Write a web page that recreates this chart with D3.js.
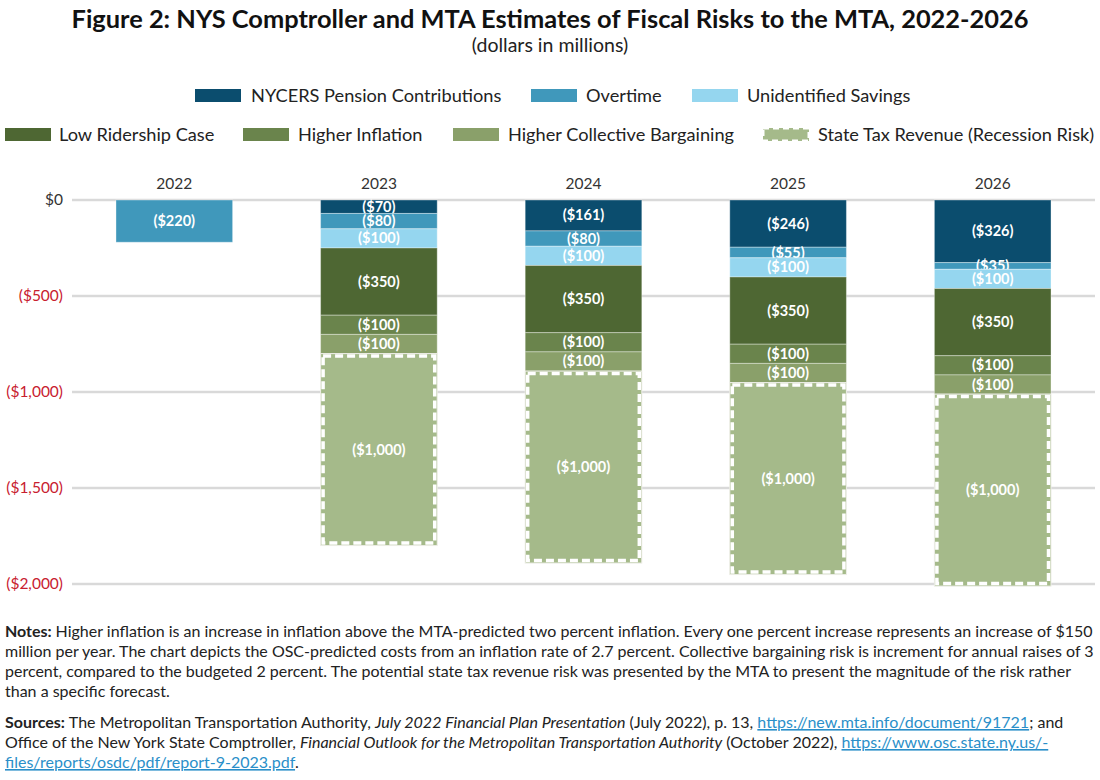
<!DOCTYPE html>
<html>
<head>
<meta charset="utf-8">
<script src="https://cdn.jsdelivr.net/npm/d3@7"></script>
<style>
  body { margin: 0; background: #fff; }
  text { font-family: Lato, "Open Sans", sans-serif; }
  .link { fill: #2a8fc9; }
</style>
</head>
<body>
<script>
var years = ["2022", "2023", "2024", "2025", "2026"];
var seriesNames = ["NYCERS Pension Contributions", "Overtime", "Unidentified Savings",
  "Low Ridership Case", "Higher Inflation", "Higher Collective Bargaining",
  "State Tax Revenue (Recession Risk)"];
// values in millions, negative = risk
var pension      = [0, -70, -161, -246, -326];
var overtime     = [-220, -80, -80, -55, -35];
var unidentified = [0, -100, -100, -100, -100];
var ridership    = [0, -350, -350, -350, -350];
var inflation    = [0, -100, -100, -100, -100];
var bargaining   = [0, -100, -100, -100, -100];
var stateTax     = [0, -1000, -1000, -1000, -1000];
var yTicks = [0, -500, -1000, -1500, -2000];

var colors = ["#0b4d6e", "#4098bb", "#95d6ef", "#4e6733", "#6a844c", "#8aa06a", "#a5ba8a"];
var seriesVals = [pension, overtime, unidentified, ridership, inflation, bargaining, stateTax];

var rows = years.map(function(y, i) {
  var r = { year: y };
  seriesNames.forEach(function(k, j) { r[k] = seriesVals[j][i]; });
  return r;
});

var W = 1100, H = 780;
var svg = d3.select("body").append("svg").attr("width", W).attr("height", H);

// title
svg.append("text").attr("x", 550).attr("y", 28).attr("text-anchor", "middle")
  .style("font-size", "25.4px").style("font-weight", 700).attr("fill", "#111")
  .text("Figure 2: NYS Comptroller and MTA Estimates of Fiscal Risks to the MTA, 2022-2026");
svg.append("text").attr("x", 550).attr("y", 52).attr("text-anchor", "middle")
  .style("font-size", "19.5px").attr("fill", "#222").text("(dollars in millions)");

// legend
var legendPos = [
  { x: 195, y: 89, tx: 251 }, { x: 531, y: 89, tx: 586 }, { x: 692, y: 89, tx: 747 },
  { x: 5, y: 128, tx: 59 }, { x: 243, y: 128, tx: 298 }, { x: 453, y: 128, tx: 508 },
  { x: 763, y: 128, tx: 818 }
];
var leg = svg.append("g").selectAll("g").data(seriesNames).enter().append("g");
leg.append("rect")
  .attr("x", function(d, i) { return legendPos[i].x; })
  .attr("y", function(d, i) { return legendPos[i].y; })
  .attr("width", 46).attr("height", 13)
  .attr("fill", function(d, i) { return colors[i]; })
  .attr("stroke", function(d, i) { return i === 6 ? "#fff" : "none"; })
  .attr("stroke-width", 3).attr("stroke-dasharray", "6,4");
leg.append("text")
  .attr("x", function(d, i) { return legendPos[i].tx; })
  .attr("y", function(d, i) { return legendPos[i].y + 12.5; })
  .style("font-size", "18.2px").attr("fill", "#222")
  .text(function(d) { return d; });

// scales
var x = d3.scaleBand().domain(years).range([72, 1095]).paddingInner(0.43).paddingOuter(0.215);
var y = d3.scaleLinear().domain([-2000, 0]).range([584, 200]);

function fmt(v) {
  if (v === 0) return "$0";
  return "($" + d3.format(",")(Math.abs(v)) + ")";
}

// grid
svg.append("g").selectAll("line").data(yTicks).enter().append("line")
  .attr("x1", 72).attr("x2", 1095)
  .attr("y1", function(d) { return y(d); }).attr("y2", function(d) { return y(d); })
  .attr("stroke", "#d9d9d9").attr("stroke-width", 2.5);

// y axis labels
svg.append("g").selectAll("text").data(yTicks).enter().append("text")
  .attr("x", 63).attr("y", function(d) { return y(d) + 5; })
  .attr("text-anchor", "end").style("font-size", "15.5px")
  .attr("fill", function(d) { return d < 0 ? "#c8202f" : "#333"; })
  .text(fmt);

// year labels
svg.append("g").selectAll("text").data(years).enter().append("text")
  .attr("x", function(d) { return x(d) + x.bandwidth() / 2; })
  .attr("y", 189).attr("text-anchor", "middle").style("font-size", "15.5px").attr("fill", "#333")
  .text(function(d) { return d; });

var stack = d3.stack().keys(seriesNames).offset(d3.stackOffsetDiverging);
var stacked = stack(rows);

var layers = svg.append("g").selectAll("g").data(stacked).enter().append("g");

layers.each(function(layer, li) {
  var g = d3.select(this);
  var segs = layer.filter(function(d) { return d[1] - d[0] !== 0; });
  var dashed = li === 6;
  g.selectAll("rect.seg").data(segs).enter().append("rect").attr("class", "seg")
    .attr("x", function(d) { return x(d.data.year); })
    .attr("width", x.bandwidth())
    .attr("y", function(d) { return y(d[1]); })
    .attr("height", function(d) { return y(d[0]) - y(d[1]); })
    .attr("fill", colors[li])
    .attr("stroke", dashed ? "#eeeee8" : "rgba(255,255,255,0.35)")
    .attr("stroke-width", 1);
  if (dashed) {
    g.selectAll("rect.dash").data(segs).enter().append("rect").attr("class", "dash")
      .attr("x", function(d) { return x(d.data.year) + 2.5; })
      .attr("width", x.bandwidth() - 5)
      .attr("y", function(d) { return y(d[1]) + 2.5; })
      .attr("height", function(d) { return y(d[0]) - y(d[1]) - 5; })
      .attr("fill", "none").attr("stroke", "#fff")
      .attr("stroke-width", 3.5).attr("stroke-dasharray", "8,4");
  }
  g.selectAll("text").data(segs).enter().append("text")
    .attr("x", function(d) { return x(d.data.year) + x.bandwidth() / 2; })
    .attr("y", function(d) { return (y(d[0]) + y(d[1])) / 2 + 5; })
    .attr("text-anchor", "middle").style("font-size", "14.5px").style("font-weight", 700)
    .attr("fill", "#fff")
    .text(function(d) { return fmt(d[0] - d[1]); });
});

// notes
var notes = svg.append("g").style("font-size", "16px").attr("fill", "#222");
var noteLines = [
  [["b", "Notes: "], ["", "Higher inflation is an increase in inflation above the MTA-predicted two percent inflation. Every one percent increase represents an increase of $150"]],
  [["", "million per year. The chart depicts the OSC-predicted costs from an inflation rate of 2.7 percent. Collective bargaining risk is increment for annual raises of 3"]],
  [["", "percent, compared to the budgeted 2 percent. The potential state tax revenue risk was presented by the MTA to present the magnitude of the risk rather"]],
  [["", "than a specific forecast."]],
  [["b", "Sources: "], ["", "The Metropolitan Transportation Authority, "], ["i", "July 2022 Financial Plan Presentation"], ["", " (July 2022), p. 13, "], ["a", "https://new.mta.info/document/91721"], ["", "; and"]],
  [["", "Office of the New York State Comptroller, "], ["i", "Financial Outlook for the Metropolitan Transportation Authority"], ["", " (October 2022), "], ["a", "https://www.osc.state.ny.us/-"]],
  [["a", "files/reports/osdc/pdf/report-9-2023.pdf"], ["", "."]]
];
var lineY = [637, 657, 677, 697, 728, 748, 768];
noteLines.forEach(function(parts, i) {
  var t = notes.append("text").attr("x", 5).attr("y", lineY[i]);
  parts.forEach(function(p) {
    var s = t.append("tspan").text(p[1]);
    if (p[0] === "b") s.style("font-weight", 700);
    if (p[0] === "i") s.style("font-style", "italic");
    if (p[0] === "a") s.attr("class", "link").style("text-decoration", "underline");
  });
});
</script>
</body>
</html>
